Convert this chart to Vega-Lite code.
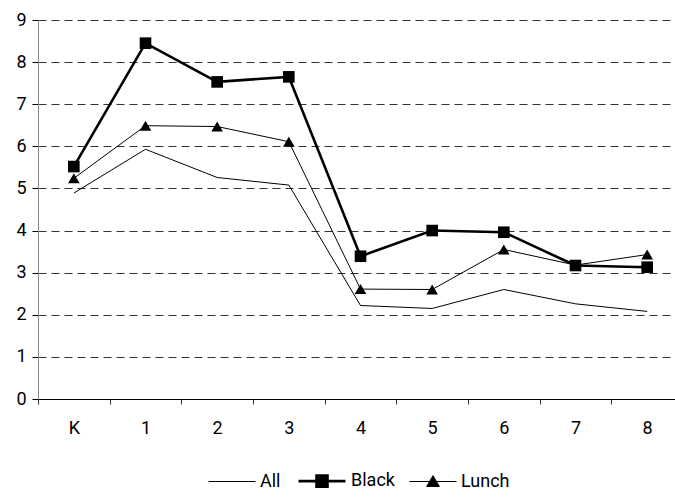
{
  "$schema": "https://vega.github.io/schema/vega-lite/v6.json",
  "width": 637,
  "height": 379,
  "autosize": {"type": "none"},
  "padding": {"left": 38, "top": 20, "right": 0, "bottom": 98},
  "background": "white",
  "config": {
    "view": {"stroke": null},
    "font": "Roboto",
    "axis": {"labelFont": "Roboto", "labelFontSize": 18, "labelColor": "black", "title": null},
    "legend": {"labelFont": "Roboto", "labelFontSize": 18, "labelColor": "black"}
  },
  "data": {
    "values": [
      {"grade": "K", "series": "All", "value": 4.89},
      {"grade": "1", "series": "All", "value": 5.93},
      {"grade": "2", "series": "All", "value": 5.26},
      {"grade": "3", "series": "All", "value": 5.08},
      {"grade": "4", "series": "All", "value": 2.22},
      {"grade": "5", "series": "All", "value": 2.15},
      {"grade": "6", "series": "All", "value": 2.6},
      {"grade": "7", "series": "All", "value": 2.26},
      {"grade": "8", "series": "All", "value": 2.08},
      {"grade": "K", "series": "Black", "value": 5.52},
      {"grade": "1", "series": "Black", "value": 8.45},
      {"grade": "2", "series": "Black", "value": 7.53},
      {"grade": "3", "series": "Black", "value": 7.65},
      {"grade": "4", "series": "Black", "value": 3.39},
      {"grade": "5", "series": "Black", "value": 4.0},
      {"grade": "6", "series": "Black", "value": 3.96},
      {"grade": "7", "series": "Black", "value": 3.17},
      {"grade": "8", "series": "Black", "value": 3.13},
      {"grade": "K", "series": "Lunch", "value": 5.24},
      {"grade": "1", "series": "Lunch", "value": 6.49},
      {"grade": "2", "series": "Lunch", "value": 6.47},
      {"grade": "3", "series": "Lunch", "value": 6.11},
      {"grade": "4", "series": "Lunch", "value": 2.61},
      {"grade": "5", "series": "Lunch", "value": 2.6},
      {"grade": "6", "series": "Lunch", "value": 3.55},
      {"grade": "7", "series": "Lunch", "value": 3.18},
      {"grade": "8", "series": "Lunch", "value": 3.43}
    ]
  },
  "encoding": {
    "x": {
      "field": "grade",
      "type": "nominal",
      "sort": ["K", "1", "2", "3", "4", "5", "6", "7", "8"],
      "bandPosition": 0.5,
      "scale": {"type": "band", "range": [0, 645], "paddingInner": 0, "paddingOuter": 0},
      "axis": {
        "labelAngle": 0,
        "domainColor": "black",
        "domainWidth": 1,
        "tickColor": "#333",
        "tickSize": 5,
        "tickBand": "extent",
        "labelPadding": 15,
        "grid": false
      }
    },
    "y": {
      "field": "value",
      "type": "quantitative",
      "scale": {"domain": [0, 9], "nice": false, "zero": true},
      "axis": {
        "values": [0, 1, 2, 3, 4, 5, 6, 7, 8, 9],
        "domainColor": "#888",
        "domainWidth": 1,
        "tickColor": "black",
        "tickSize": 6,
        "labelPadding": 6,
        "grid": true,
        "gridColor": "#333",
        "gridDash": [8, 5],
        "gridWidth": 1
      }
    }
  },
  "layer": [
    {
      "mark": {"type": "line"},
      "encoding": {
        "color": {
          "field": "series",
          "type": "nominal",
          "scale": {"domain": ["All", "Black", "Lunch"], "range": ["black", "black", "black"]},
          "legend": {
            "orient": "none",
            "legendX": 170,
            "legendY": 436,
            "direction": "horizontal",
            "title": null,
            "padding": 0,
            "symbolSize": 2209,
            "labelOffset": 4,
            "columnPadding": 12,
            "encode": {
              "symbols": {
                "update": {
                  "shape": {"signal": "datum.value === 'Black' ? 'M-1,0H1M-0.234,-0.234H0.234V0.234H-0.234Z' : datum.value === 'Lunch' ? 'M-1,0H1M0,-0.25L0.27,0.21H-0.27Z' : 'M-1,0H1'"},
                  "fill": {"value": "black"},
                  "stroke": {"value": "black"},
                  "strokeWidth": {"signal": "datum.value === 'Black' ? 2.5 : 1"},
                  "opacity": {"value": 1}
                }
              }
            }
          }
        },
        "strokeWidth": {
          "field": "series",
          "type": "nominal",
          "scale": {"type": "ordinal", "domain": ["All", "Black", "Lunch"], "range": [1, 2.6, 1]},
          "legend": null
        }
      }
    },
    {
      "transform": [{"filter": "datum.series !== 'All'"}],
      "mark": {"type": "point", "filled": true, "opacity": 1, "strokeWidth": 0},
      "encoding": {
        "shape": {
          "field": "series",
          "type": "nominal",
          "scale": {"domain": ["Black", "Lunch"], "range": ["square", "triangle-up"]},
          "legend": null
        },
        "color": {"value": "black"},
        "size": {"value": 135}
      }
    }
  ]
}
